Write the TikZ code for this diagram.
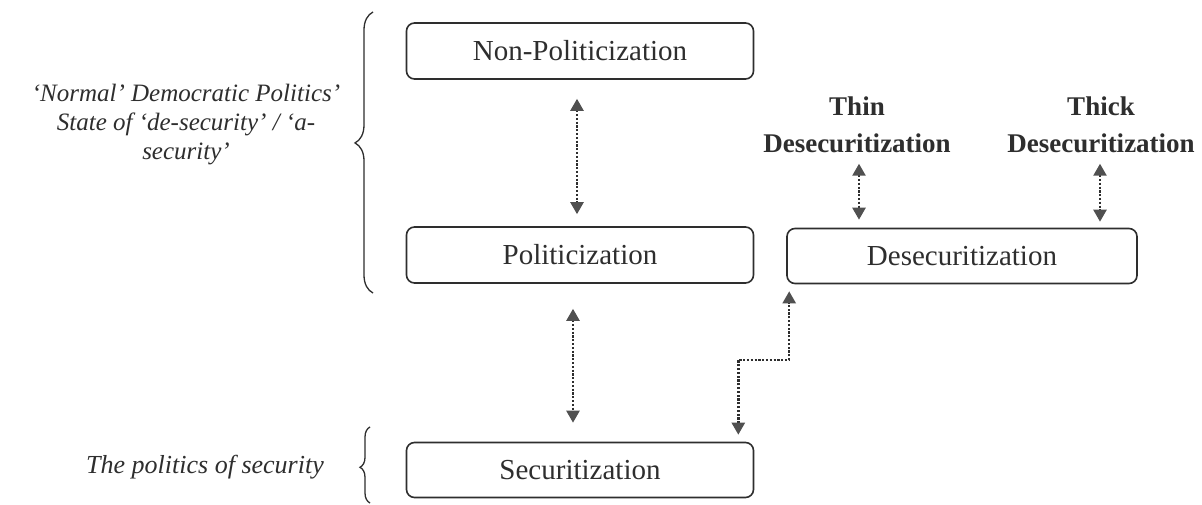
\documentclass[tikz,border=0pt]{standalone}
\usepackage{fontspec}
\setmainfont{Liberation Serif}
\usetikzlibrary{arrows.meta,decorations.pathreplacing,calc}
\definecolor{ink}{HTML}{2E2E2E}
\definecolor{tip}{HTML}{505050}
\begin{document}
\begin{tikzpicture}[x=1pt,y=-1pt,
  box/.style={draw=ink,line width=1.6pt,rounded corners=8pt,minimum height=56pt,
    inner sep=0pt,text=ink,font=\fontsize{29}{33}\selectfont},
  arr/.style={draw=ink,line width=2.4pt,dash pattern=on 2.2pt off 1.6pt,
    {Triangle[width=13pt,length=12pt,fill=tip,color=tip]}-{Triangle[width=13pt,length=12pt,fill=tip,color=tip]}},
  blab/.style={text=ink,font=\bfseries\fontsize{27}{37}\selectfont,align=center,inner sep=0pt},
  ilab/.style={text=ink,font=\itshape\fontsize{25}{29}\selectfont,align=center,inner sep=0pt},
  brc/.style={draw=ink,line width=1.3pt,decorate}]
\useasboundingbox (0,0) rectangle (1202,505);
\fill[white] (0,0) rectangle (1202,505);

\node[box,minimum width=347pt] (np) at (580,51) {Non-Politicization};
\node[box,minimum width=347pt] (pol) at (580,255) {Politicization};
\node[box,minimum width=350pt,minimum height=55pt] (des) at (962,256) {Desecuritization};
\node[box,minimum width=347pt,minimum height=55pt] (sec) at (580,470) {Securitization};

\node[blab] (thin) at (857,124.5) {Thin\\Desecuritization};
\node[blab] (thick) at (1101,124.5) {Thick\\Desecuritization};

\node[ilab] (normal) at (186,125) {‘Normal’ Democratic Politics’\\State of ‘de-security’ / ‘a-\\security’};
\node[ilab,font=\itshape\fontsize{26}{29}\selectfont] (pos) at (205,467) {The politics of security};

% arrows
\draw[arr] ([xshift=-3pt,yshift=-19pt]np.south) -- ([xshift=-3pt,yshift=12pt]pol.north);
\draw[arr] ([xshift=-7pt,yshift=-25pt]pol.south) -- ([xshift=-7pt,yshift=19pt]sec.north);
\coordinate (e1) at ([xshift=-16pt,yshift=82pt]sec.north east);
\draw[arr] ([xshift=-16pt,yshift=7pt]sec.north east) -- (e1) -| ([xshift=3pt,yshift=-7pt]des.south west);
\draw[arr] ([xshift=2pt,yshift=-11pt]thin.south) -- ([xshift=859pt-962pt,yshift=8pt]des.north);
\draw[arr] ([xshift=-1pt,yshift=-11pt]thick.south) -- ([xshift=1100pt-962pt,yshift=6pt]des.north);

% braces
\draw[brc,decoration={brace,amplitude=18pt,aspect=0.534}] (373,293) -- (373,12);
\draw[brc,decoration={brace,amplitude=10pt,aspect=0.47}] (370,503) -- (370,427);
\end{tikzpicture}
\end{document}
